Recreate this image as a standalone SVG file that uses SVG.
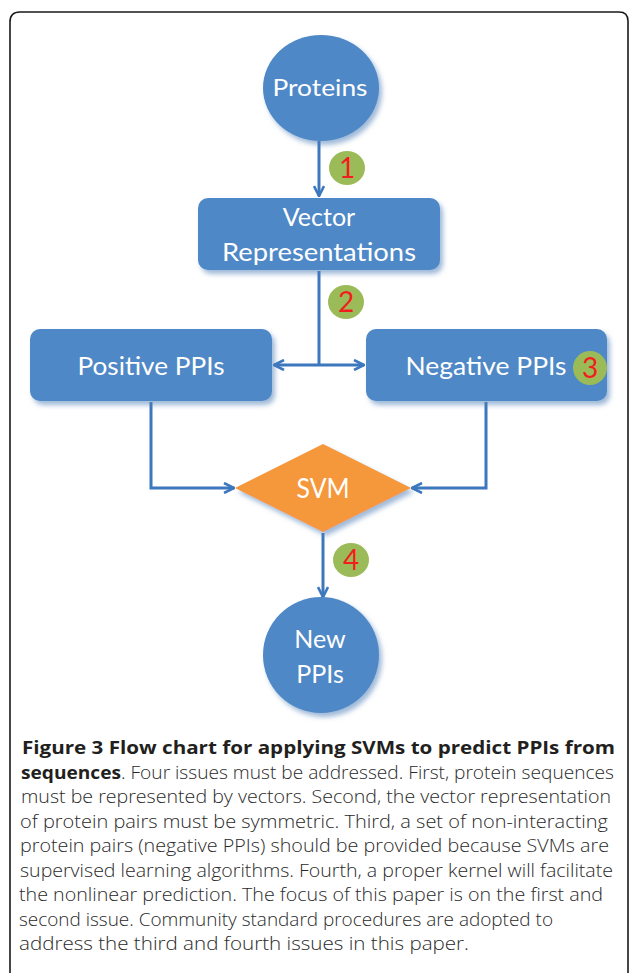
<svg xmlns="http://www.w3.org/2000/svg" width="629" height="973" viewBox="0 0 629 973">
<style>
.node{fill:#4F88C6;filter:url(#sh)}
.svm{fill:#F5973B;filter:url(#sh)}
.lbl{font-family:Lato,"Open Sans",sans-serif;fill:#fff;text-anchor:middle}
.conn{fill:none;stroke:#3D77BD;stroke-width:3}
.badge{fill:#9BBB59}
.num{font-family:Lato,"Open Sans",sans-serif;fill:#F01E1E;font-size:28px;text-anchor:middle}
.cap{font-family:"Open Sans","Noto Sans",sans-serif;font-size:18.5px;font-weight:300;fill:#2a2a2a}
.capb{font-weight:bold;fill:#231F20}
</style>
<defs>
<filter id="sh" x="-20%" y="-20%" width="150%" height="150%">
<feDropShadow dx="3" dy="4" stdDeviation="2.5" flood-color="#4F7FB8" flood-opacity="0.55"/>
</filter>
<marker id="ah" viewBox="0 0 12 12" refX="11" refY="6" markerWidth="12" markerHeight="12" markerUnits="userSpaceOnUse" orient="auto-start-reverse">
<path d="M1,1 L11,6 L1,11" fill="none" stroke="#3D77BD" stroke-width="2.6"/>
</marker>
</defs>
<rect width="629" height="973" fill="#fff"/>
<path d="M10,973 V22 Q10,12 20,12 H619 Q628,12 628,21 V973" fill="none" stroke="#1a1a1a" stroke-width="1.6"/>

<g id="connectors">
<path class="conn" d="M319,141 V196" marker-end="url(#ah)"/>
<path class="conn" d="M319,271 V365"/>
<path class="conn" d="M274,365 H364" marker-start="url(#ah)" marker-end="url(#ah)"/>
<path class="conn" d="M151,402 V488 H234" marker-end="url(#ah)"/>
<path class="conn" d="M486,402 V488 H412" marker-end="url(#ah)"/>
<path class="conn" d="M323,533 V597" marker-end="url(#ah)"/>
</g>

<g id="proteins">
<ellipse class="node" cx="321" cy="88" rx="58" ry="53"/>
<text class="lbl" x="320" y="96" font-size="24" textLength="95" lengthAdjust="spacingAndGlyphs">Proteins</text>
</g>
<g id="vector">
<rect class="node" x="198" y="198" width="242" height="72" rx="10"/>
<text class="lbl" x="319" y="226" font-size="25">Vector</text>
<text class="lbl" x="319" y="261" font-size="25" textLength="194" lengthAdjust="spacingAndGlyphs">Representations</text>
</g>
<g id="positive">
<rect class="node" x="30" y="329" width="242" height="72" rx="10"/>
<text class="lbl" x="151" y="375" font-size="25" textLength="147" lengthAdjust="spacingAndGlyphs">Positive PPIs</text>
</g>
<g id="negative">
<rect class="node" x="366" y="329" width="241" height="72" rx="10"/>
<text class="lbl" x="486" y="375" font-size="25" textLength="161" lengthAdjust="spacingAndGlyphs">Negative PPIs</text>
</g>
<g id="svm">
<polygon class="svm" points="235,488 323,444 411,488 323,532"/>
<text class="lbl" x="323" y="498" font-size="26" textLength="53" lengthAdjust="spacingAndGlyphs">SVM</text>
</g>
<g id="newppis">
<ellipse class="node" cx="321" cy="655" rx="58" ry="58"/>
<text class="lbl" x="320" y="648" font-size="25">New</text>
<text class="lbl" x="320" y="683" font-size="25">PPIs</text>
</g>

<g id="badge1"><ellipse class="badge" cx="347" cy="168" rx="18" ry="17"/><text class="num" x="347" y="178">1</text></g>
<g id="badge2"><ellipse class="badge" cx="346" cy="302" rx="18" ry="17"/><text class="num" x="346" y="312">2</text></g>
<g id="badge3"><ellipse class="badge" cx="590" cy="368" rx="17" ry="17"/><text class="num" x="590" y="378">3</text></g>
<g id="badge4"><ellipse class="badge" cx="351" cy="560" rx="18" ry="17"/><text class="num" x="351" y="570">4</text></g>

<g id="caption">
<text class="cap capb" x="22" y="754" textLength="593" lengthAdjust="spacingAndGlyphs">Figure 3 Flow chart for applying SVMs to predict PPIs from</text>
<text class="cap" x="21" y="778.5" textLength="593" lengthAdjust="spacingAndGlyphs"><tspan class="capb">sequences</tspan>. Four issues must be addressed. First, protein sequences</text>
<text class="cap" x="21" y="803" textLength="590" lengthAdjust="spacingAndGlyphs">must be represented by vectors. Second, the vector representation</text>
<text class="cap" x="20" y="827.5" textLength="588" lengthAdjust="spacingAndGlyphs">of protein pairs must be symmetric. Third, a set of non-interacting</text>
<text class="cap" x="20" y="852" textLength="589" lengthAdjust="spacingAndGlyphs">protein pairs (negative PPIs) should be provided because SVMs are</text>
<text class="cap" x="20" y="876.5" textLength="593" lengthAdjust="spacingAndGlyphs">supervised learning algorithms. Fourth, a proper kernel will facilitate</text>
<text class="cap" x="19" y="901" textLength="584" lengthAdjust="spacingAndGlyphs">the nonlinear prediction. The focus of this paper is on the first and</text>
<text class="cap" x="19" y="925.5" textLength="534" lengthAdjust="spacingAndGlyphs">second issue. Community standard procedures are adopted to</text>
<text class="cap" x="19" y="950" textLength="450" lengthAdjust="spacingAndGlyphs">address the third and fourth issues in this paper.</text>
</g>
</svg>
